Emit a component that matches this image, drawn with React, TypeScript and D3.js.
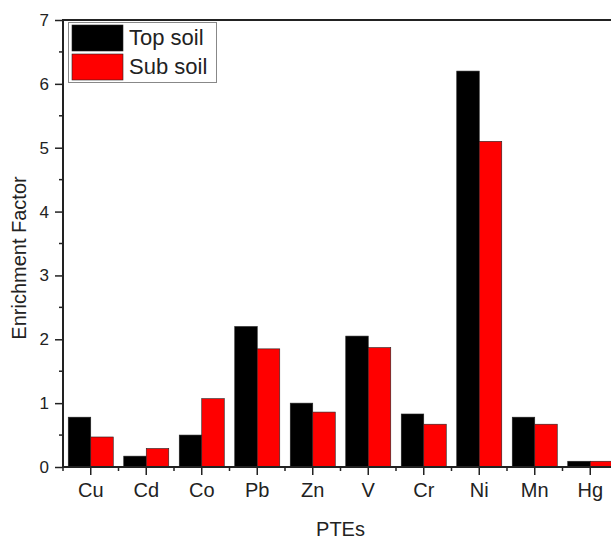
import React, { useRef, useEffect } from "react";
import * as d3 from "d3";

// values
const categories = ["Cu", "Cd", "Co", "Pb", "Zn", "V", "Cr", "Ni", "Mn", "Hg"];
const topSoil = [0.78, 0.17, 0.5, 2.2, 1.0, 2.05, 0.83, 6.2, 0.78, 0.09];
const subSoil = [0.47, 0.29, 1.07, 1.85, 0.86, 1.87, 0.67, 5.1, 0.67, 0.09];
const seriesNames = ["Top soil", "Sub soil"];
const seriesColors = ["#000000", "#ff0000"];
const yTicks = [0, 1, 2, 3, 4, 5, 6, 7];

const App = () => {
  const svgRef = useRef<SVGSVGElement>(null);

  useEffect(() => {
    const svg = d3.select(svgRef.current);
    svg.selectAll("*").remove();
    const width = 611;
    const height = 539;
    const font = "Arial, 'Liberation Sans', sans-serif";

    const left = 63;
    const right = 618; // plot runs past the window edge
    const top = 20;
    const bottom = 467;

    const x = d3.scaleBand<string>().domain(categories).range([left, right]).padding(0);
    const x1 = d3
      .scaleBand<number>()
      .domain([0, 1])
      .range([0, x.bandwidth()])
      .paddingInner(0)
      .paddingOuter(0.233);
    const y = d3.scaleLinear().domain([0, 7]).range([bottom, top]);

    svg.attr("width", width).attr("height", height);

    const data = categories.map((c, i) => ({ c, vals: [topSoil[i], subSoil[i]] }));

    const g = svg
      .selectAll(".grp")
      .data(data)
      .enter()
      .append("g")
      .attr("transform", (d) => `translate(${x(d.c)},0)`);

    g.selectAll("rect")
      .data((d) => d.vals)
      .enter()
      .append("rect")
      .attr("x", (d, i) => x1(i)!)
      .attr("y", (d) => y(d))
      .attr("width", x1.bandwidth())
      .attr("height", (d) => bottom - y(d))
      .attr("fill", (d, i) => seriesColors[i])
      .attr("stroke", "#222")
      .attr("stroke-width", 0.6);

    // y axis
    const yAxis = svg.append("g").attr("transform", `translate(${left},0)`);
    yAxis
      .call(d3.axisLeft(y).tickValues(yTicks).tickSize(8).tickPadding(6).tickFormat(d3.format("d")))
      .call((a) => a.select(".domain").remove());
    yAxis.selectAll("text").attr("font-size", 17).attr("font-family", font).attr("fill", "#222");
    yAxis.selectAll("line").attr("stroke", "#222").attr("stroke-width", 1.5);
    yAxis
      .selectAll(".minor")
      .data(d3.range(0.5, 7, 1))
      .enter()
      .append("line")
      .attr("x1", -4)
      .attr("x2", 0)
      .attr("y1", (d) => y(d))
      .attr("y2", (d) => y(d))
      .attr("stroke", "#222")
      .attr("stroke-width", 1.5);

    // x axis
    const xAxis = svg.append("g").attr("transform", `translate(0,${bottom})`);
    xAxis
      .call(d3.axisBottom(x).tickSize(8).tickPadding(8))
      .call((a) => a.select(".domain").remove());
    xAxis.selectAll("text").attr("font-size", 20).attr("font-family", font).attr("fill", "#222");
    xAxis.selectAll("line").attr("stroke", "#222").attr("stroke-width", 1.5);
    xAxis
      .selectAll(".minor")
      .data(categories.map((c) => x(c)!))
      .enter()
      .append("line")
      .attr("x1", (d) => d)
      .attr("x2", (d) => d)
      .attr("y1", 0)
      .attr("y2", 4)
      .attr("stroke", "#222")
      .attr("stroke-width", 1.5);

    // frame lines
    svg
      .append("path")
      .attr("d", `M${right},${top}H${left}V${bottom}H${right}`)
      .attr("fill", "none")
      .attr("stroke", "#222")
      .attr("stroke-width", 2);

    // axis titles
    svg
      .append("text")
      .attr("x", (left + right) / 2)
      .attr("y", 536)
      .attr("text-anchor", "middle")
      .attr("font-size", 20)
      .attr("font-family", font)
      .attr("fill", "#222")
      .text("PTEs");
    svg
      .append("text")
      .attr("transform", `translate(26,258) rotate(-90)`)
      .attr("text-anchor", "middle")
      .attr("font-size", 20)
      .attr("font-family", font)
      .attr("fill", "#222")
      .text("Enrichment Factor");

    // legend
    const leg = svg.append("g");
    leg
      .append("rect")
      .attr("x", 68.5)
      .attr("y", 22.5)
      .attr("width", 148)
      .attr("height", 60)
      .attr("fill", "#fff")
      .attr("stroke", "#888")
      .attr("stroke-width", 1);
    seriesNames.forEach((name, i) => {
      leg
        .append("rect")
        .attr("x", 72)
        .attr("y", 25 + i * 29)
        .attr("width", 51)
        .attr("height", 26)
        .attr("fill", seriesColors[i])
        .attr("stroke", "#222")
        .attr("stroke-width", 0.6);
      leg
        .append("text")
        .attr("x", 129)
        .attr("y", 45 + i * 29)
        .attr("font-size", 22)
        .attr("font-family", font)
        .attr("fill", "#222")
        .text(name);
    });
  }, []);

  return (
    <div style={{ position: "absolute", left: 0, top: 0 }}>
      <svg ref={svgRef}></svg>
    </div>
  );
};

export default App;
